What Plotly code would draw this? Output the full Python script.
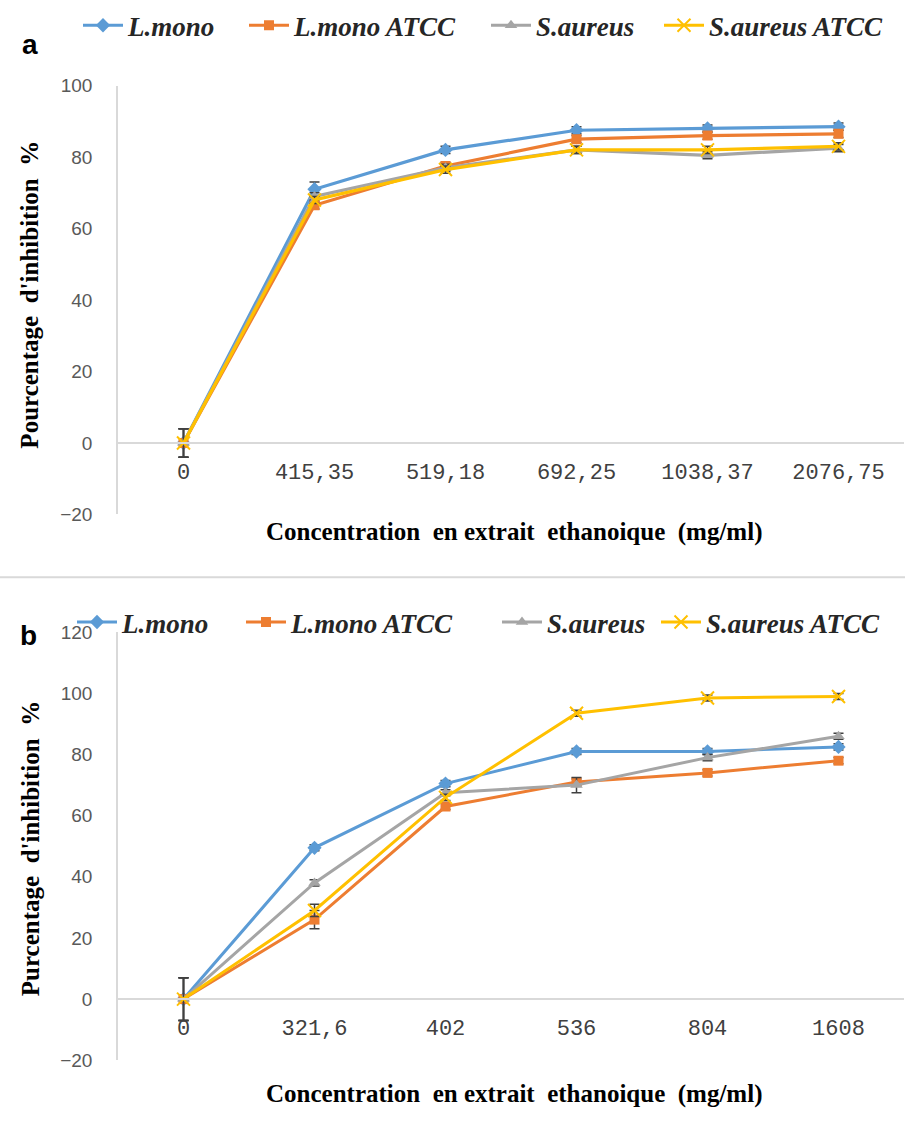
import plotly.graph_objects as go

# ---------------- data ----------------
cats_a = ["0", "415,35", "519,18", "692,25", "1038,37", "2076,75"]
cats_b = ["0", "321,6", "402", "536", "804", "1608"]
series_names = ["L.mono", "L.mono ATCC", "S.aureus", "S.aureus ATCC"]

a_lmono = [0, 71, 82, 87.5, 88, 88.5]
a_lmono_atcc = [0, 66.5, 77.5, 85, 86, 86.5]
a_saureus = [0, 69, 77, 82, 80.5, 82.5]
a_saureus_atcc = [0, 68, 76.5, 82, 82, 83]

a_err_lmono = [4, 2, 1, 1, 1, 1]
a_err_lmono_atcc = [4, 1, 1, 1, 1, 1]
a_err_saureus = [4, 1, 1, 1, 1, 1]
a_err_saureus_atcc = [4, 1, 1, 1, 1, 1]

b_lmono = [0, 49.5, 70.5, 81, 81, 82.5]
b_lmono_atcc = [0, 26, 63, 71, 74, 78]
b_saureus = [0, 38, 67.5, 70, 79, 86]
b_saureus_atcc = [0, 29, 66, 93.5, 98.5, 99]

b_err_lmono = [7, 1, 1, 1, 1, 1]
b_err_lmono_atcc = [7, 3, 1, 1, 1, 1]
b_err_saureus = [7, 1, 1, 2.5, 1, 1]
b_err_saureus_atcc = [7, 2, 1, 1, 1, 1]

# ---------------- styles ----------------
W, H = 905, 1136
colors = ["#5B9BD5", "#ED7D31", "#A5A5A5", "#FFC000"]
symbols = ["diamond", "square", "triangle-up", "x-thin"]
msizes = [11, 10, 11, 13]

def py(pix):
    return 1 - pix / H

def px(pix):
    return pix / W

xdom = [px(118), px(904)]
# chart a : 100 at y=77, -20 at y=514 ; chart b : 120 at 634, -20 at 1070
ydom_a = [py(514), py(77)]
ydom_b = [py(1070), py(634)]
zero_a = ydom_a[0] + (0 - (-20)) / 120 * (ydom_a[1] - ydom_a[0])
zero_b = ydom_b[0] + (0 - (-20)) / 140 * (ydom_b[1] - ydom_b[0])

fig = go.Figure()

data_a = [a_lmono, a_lmono_atcc, a_saureus, a_saureus_atcc]
err_a = [a_err_lmono, a_err_lmono_atcc, a_err_saureus, a_err_saureus_atcc]
data_b = [b_lmono, b_lmono_atcc, b_saureus, b_saureus_atcc]
err_b = [b_err_lmono, b_err_lmono_atcc, b_err_saureus, b_err_saureus_atcc]

leg_ids_a = ["legend", "legend2", "legend3", "legend4"]
leg_ids_b = ["legend5", "legend6", "legend7", "legend8"]

for i, name in enumerate(series_names):
    mk = dict(symbol=symbols[i], size=msizes[i], color=colors[i],
              line=dict(color=colors[i], width=2 if symbols[i] == "x-thin" else 0))
    fig.add_trace(go.Scatter(
        x=cats_a, y=data_a[i], name=name, mode="lines+markers",
        line=dict(color=colors[i], width=3.2), marker=mk,
        error_y=dict(type="data", array=err_a[i], color="#404040", thickness=1.5, width=5),
        xaxis="x", yaxis="y", legend=leg_ids_a[i]))
for i, name in enumerate(series_names):
    mk = dict(symbol=symbols[i], size=msizes[i], color=colors[i],
              line=dict(color=colors[i], width=2 if symbols[i] == "x-thin" else 0))
    fig.add_trace(go.Scatter(
        x=cats_b, y=data_b[i], name=name, mode="lines+markers",
        line=dict(color=colors[i], width=3), marker=mk,
        error_y=dict(type="data", array=err_b[i], color="#404040", thickness=1.5, width=5),
        xaxis="x2", yaxis="y2", legend=leg_ids_b[i]))

tickfont_x = dict(family="Liberation Mono", size=22, color="#404040")
tickfont_y = dict(family="Liberation Sans", size=19, color="#595959")
legfont = dict(family="Liberation Serif", size=27, color="#262626", style="italic", weight="bold")

xcommon = dict(type="category", domain=xdom, anchor="free", showline=True,
               linecolor="#D9D9D9", linewidth=1.5, showgrid=False, zeroline=False,
               ticks="", tickfont=tickfont_x, ticklabelstandoff=9, range=[-0.5, 5.5])
ycommon = dict(showline=True, linecolor="#D9D9D9", linewidth=1.5, showgrid=False,
               zeroline=False, ticks="", tickfont=tickfont_y, dtick=20, ticklabelstandoff=20)

layout = dict(
    width=W, height=H, margin=dict(l=0, r=0, t=0, b=0),
    paper_bgcolor="white", plot_bgcolor="white",
    xaxis=dict(**xcommon, position=zero_a),
    yaxis=dict(**ycommon, domain=ydom_a, range=[-20, 100], anchor="x"),
    xaxis2=dict(**xcommon, position=zero_b),
    yaxis2=dict(**ycommon, domain=ydom_b, range=[-20, 120], anchor="x2"),
    showlegend=True,
)
leg_x_a = [84, 250, 492, 665]
leg_x_b = [78, 247, 503, 662]
for lid, lx in zip(leg_ids_a, leg_x_a):
    layout[lid] = dict(orientation="h", x=px(lx - 6), y=py(16), xanchor="left", yanchor="middle",
                       font=legfont, bgcolor="rgba(0,0,0,0)", itemwidth=40)
for lid, lx in zip(leg_ids_b, leg_x_b):
    layout[lid] = dict(orientation="h", x=px(lx - 6), y=py(624), xanchor="left", yanchor="middle",
                       font=legfont, bgcolor="rgba(0,0,0,0)", itemwidth=40)
fig.update_layout(**layout)

title_font = dict(family="Liberation Serif", size=25, color="#000000", weight="bold")
ann = dict(xref="paper", yref="paper", showarrow=False, xanchor="center", yanchor="middle")
fig.add_annotation(text="Concentration  en extrait  ethanoique  (mg/ml)", x=px(514), y=py(532),
                   font=title_font, **ann)
fig.add_annotation(text="Concentration  en extrait  ethanoique  (mg/ml)", x=px(514), y=py(1104),
                   font=title_font, **ann)
fig.add_annotation(text="Pourcentage  d'inhibition  %", x=px(30), y=py(290), textangle=-90,
                   font=title_font, **ann)
fig.add_annotation(text="Purcentage  d'inhibition  %", x=px(30), y=py(855), textangle=-90,
                   font=title_font, **ann)

lab_font = dict(family="Liberation Sans", size=28, color="#000000", weight="bold")
fig.add_annotation(text="a", x=px(30), y=py(35), font=lab_font, **ann)
fig.add_annotation(text="b", x=px(28), y=py(637), font=lab_font, **ann)

fig.add_shape(type="line", xref="paper", yref="paper", x0=0, x1=1, y0=py(578), y1=py(578),
              line=dict(color="#D9D9D9", width=2))

fig.write_html("out.html")
